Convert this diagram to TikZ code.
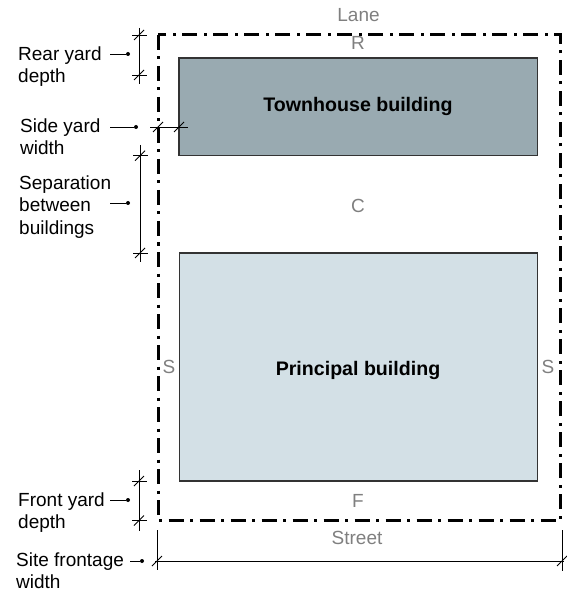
\documentclass[tikz,border=0pt]{standalone}
\usepackage{fontspec}
\setmainfont{Liberation Sans}
\definecolor{townfill}{HTML}{99AAB1}
\definecolor{princfill}{HTML}{D3E0E6}
\definecolor{bldgline}{HTML}{333333}
\definecolor{lblgray}{HTML}{7F7F7F}
\begin{document}
\begin{tikzpicture}[x=1pt,y=-1pt,
  lotline/.style={line width=3pt, dash pattern=on 15pt off 6.5pt on 3pt off 6.5pt},
  bldg/.style={draw=bldgline, line width=1.3pt},
  dimline/.style={line width=0.9pt},
  sitelbl/.style={text=lblgray, font=\fontsize{19}{22}\selectfont, inner sep=0pt, anchor=base},
  bldglbl/.style={font=\fontsize{19.6}{22}\selectfont\bfseries, inner sep=0pt, anchor=base},
  notetext/.style={align=left, font=\fontsize{19}{22}\selectfont, inner sep=0pt, anchor=base west},
  leaderdot/.style={fill, circle, inner sep=0pt, minimum size=4pt}
]
\useasboundingbox (0,0) rectangle (566,593);

% lot boundary
\coordinate (lotNW) at (158,35);
\coordinate (lotSE) at (560,520.5);
\draw[lotline] (lotNW) rectangle (lotSE);

% buildings
\draw[bldg, fill=townfill] (179,58) rectangle (537.7,155.7);
\draw[bldg, fill=princfill] (179.5,253) rectangle (537.7,481);
\node[bldglbl] (town) at (358,111.5) {Townhouse building};
\node[bldglbl] (princ) at (358,375) {Principal building};

% site labels
\node[sitelbl] (lane) at (358.5,21.7) {Lane};
\node[sitelbl] (rr) at (358,50) {R};
\node[sitelbl] (cc) at (358,213) {C};
\node[sitelbl] (sl) at (169,373) {S};
\node[sitelbl] (sr) at (548,373) {S};
\node[sitelbl] (ff) at (358,507) {F};
\node[sitelbl] (street) at (357,544) {Street};

% dimension tick helpers (argument: coordinate name)
\newcommand\mytick[1]{\draw[dimline] ([shift={(-5,5)}]#1) -- ([shift={(5,-5)}]#1);}
\newcommand\myhext[1]{\draw[dimline] ([shift={(-7,0)}]#1) -- ([shift={(8,0)}]#1);}

% rear yard depth
\coordinate (rA) at (139,28); \coordinate (rB) at (139,84);
\coordinate (rT1) at (139,35); \coordinate (rT2) at (139,75);
\draw[dimline] (rA) -- (rB);
\myhext{rT1} \myhext{rT2} \mytick{rT1} \mytick{rT2}
\node[notetext] (rearTxt) at (18,83) {Rear yard\\depth};
\coordinate (rL) at (110,54); \node[leaderdot] (rD) at (128,54) {};
\draw[dimline] (rL) -- (rD);

% side yard width
\coordinate (sA) at (150,127); \coordinate (sB) at (188,127);
\coordinate (sT1) at (158,127); \coordinate (sT2) at (179,127);
\draw[dimline] (sA) -- (sB);
\mytick{sT1} \mytick{sT2}
\node[notetext] (sideTxt) at (20,154.5) {Side yard\\width};
\coordinate (sL) at (110,127); \node[leaderdot] (sD) at (136,127) {};
\draw[dimline] (sL) -- (sD);

% separation between buildings
\coordinate (pA) at (140,145); \coordinate (pB) at (140,262);
\coordinate (pT1) at (140,155.7); \coordinate (pT2) at (140,253);
\draw[dimline] (pA) -- (pB);
\myhext{pT1} \myhext{pT2} \mytick{pT1} \mytick{pT2}
\node[notetext] (sepTxt) at (19,234) {Separation\\between\\buildings};
\coordinate (pL) at (110,203); \node[leaderdot] (pD) at (128,203) {};
\draw[dimline] (pL) -- (pD);

% front yard depth
\coordinate (fA) at (139,470); \coordinate (fB) at (139,531);
\coordinate (fT1) at (139,481); \coordinate (fT2) at (139,520.5);
\draw[dimline] (fA) -- (fB);
\myhext{fT1} \myhext{fT2} \mytick{fT1} \mytick{fT2}
\node[notetext] (frontTxt) at (18,528.5) {Front yard\\depth};
\coordinate (fL) at (110,500); \node[leaderdot] (fD) at (128,500) {};
\draw[dimline] (fL) -- (fD);

% site frontage width
\coordinate (wA) at (155,561); \coordinate (wB) at (564,561);
\coordinate (wT1) at (157,561); \coordinate (wT2) at (562,561);
\coordinate (wE1a) at (157,530); \coordinate (wE1b) at (157,570);
\coordinate (wE2a) at (562,530); \coordinate (wE2b) at (562,571);
\draw[dimline] (wA) -- (wB);
\draw[dimline] (wE1a) -- (wE1b);
\draw[dimline] (wE2a) -- (wE2b);
\mytick{wT1} \mytick{wT2}
\node[notetext] (siteTxt) at (16,588.5) {Site frontage\\width};
\coordinate (wL) at (130,561); \node[leaderdot] (wD) at (142,561) {};
\draw[dimline] (wL) -- (wD);
\end{tikzpicture}
\end{document}
